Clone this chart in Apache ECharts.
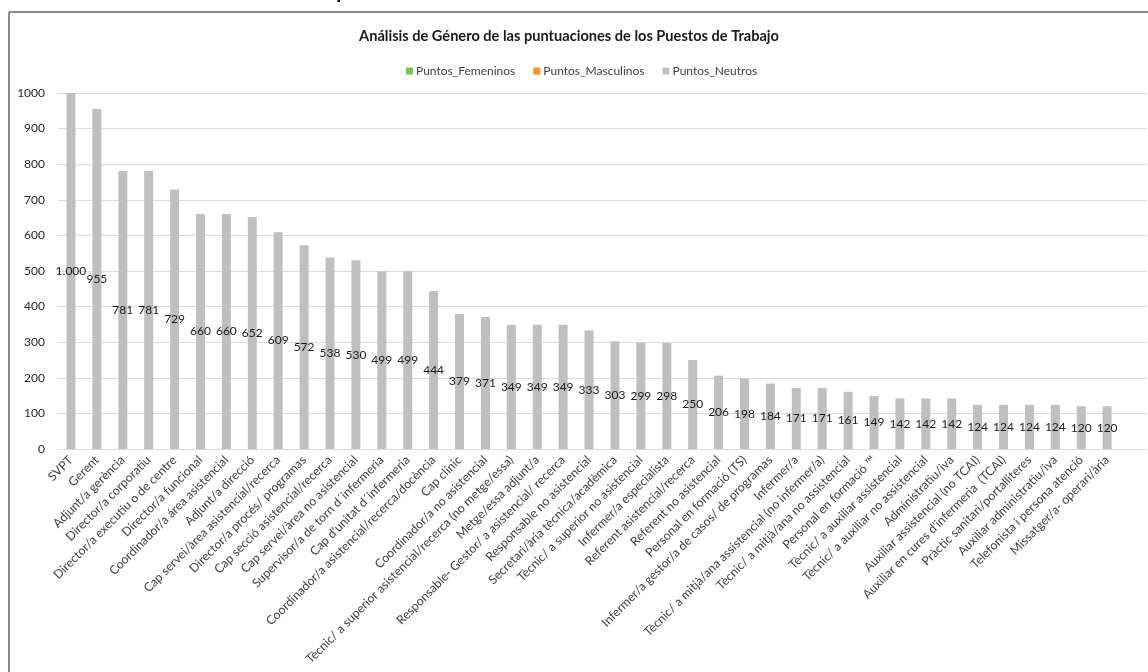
<!DOCTYPE html>
<html>
<head>
<meta charset="utf-8">
<script src="https://cdn.jsdelivr.net/npm/echarts@6/dist/echarts.min.js"></script>
<style>
  html, body { margin: 0; padding: 0; background: #ffffff; }
  #chart { width: 1148px; height: 672px; }
</style>
</head>
<body>
<div id="chart"></div>
<script>
// Job positions, ordered by score
const categories = [
  'SVPT',
  'Gerent',
  'Adjunt/a gerència',
  'Director/a corporatiu',
  'Director/a executiu o de centre',
  'Director/a funcional',
  'Coordinador/a área asistencial',
  'Adjunt/a direcció',
  'Cap servei/àrea asistencial/recerca',
  'Director/a procés/ programas',
  'Cap secció asistencial/recerca',
  'Cap servei/àrea no asistencial',
  'Supervisor/a de torn d´infermeria',
  'Cap d\'unitat d´infermeria',
  'Coordinador/a asistencial/recerca/docència',
  'Cap clínic',
  'Coordinador/a no asistencial',
  'Tècnic/ a superior asistencial/recerca (no metge/essa)',
  'Metge/essa adjunt/a',
  'Responsable- Gestor/ a asistencial/ recerca',
  'Responsable no asistencial',
  'Secretari/ària tècnica/acadèmica',
  'Tècnic/ a superior no asistencial',
  'Infermer/a especialista',
  'Referent asistencial/recerca',
  'Referent no asistencial',
  'Personal en formació (TS)',
  'Infermer/a gestor/a de casos/ de programas',
  'Infermer/a',
  'Tècnic/ a mitjà/ana assistencial (no infermer/a)',
  'Tècnic/ a mitjà/ana no assistencial',
  'Personal en formació ™',
  'Tècnic/ a auxiliar assistencial',
  'Tècnic/ a auxiliar no assistencial',
  'Administratiu/iva',
  'Auxiliar assistencial (no TCAI)',
  'Auxiliar en cures d\'infermeria  (TCAI)',
  'Pràctic sanitari/portalliteres',
  'Auxiliar administratiu/iva',
  'Telefonista i persona atenció',
  'Missatger/a- operari/ària',
  ''
];

// Scores per gender group
const puntosFemeninos = [];
const puntosMasculinos = [];
const puntosNeutros = [
  1000, 955, 781, 781, 729, 660, 660, 652, 609, 572,
  538, 530, 499, 499, 444, 379, 371, 349, 349, 349,
  333, 303, 299, 298, 250, 206, 198, 184, 171, 171,
  161, 149, 142, 142, 142, 124, 124, 124, 124, 120,
  120, null
];

// Value axis ticks
const yMin = 0;
const yMax = 1000;
const yStep = 100;

const seriesNames = ['Puntos_Femeninos', 'Puntos_Masculinos', 'Puntos_Neutros'];

const baseFont = 'Lato, "Open Sans", sans-serif';

// Spanish thousands separator: 1000 -> 1.000
function formatPoints(v) {
  return String(v).replace(/\B(?=(\d{3})+(?!\d))/g, '.');
}

const chart = echarts.init(document.getElementById('chart'), null, { renderer: 'canvas' });

const valueLabel = {
  show: true,
  position: 'inside',
  color: '#1a1a1a',
  fontFamily: baseFont,
  fontSize: 12,
  formatter: p => (p.value == null ? '' : formatPoints(p.value))
};

chart.setOption({
  backgroundColor: '#ffffff',
  animation: false,
  textStyle: { fontFamily: baseFont },
  title: {
    text: 'Análisis de Género de las puntuaciones de los Puestos de Trabajo',
    left: 564,
    textAlign: 'center',
    top: 24,
    textStyle: {
      fontFamily: baseFont,
      fontSize: 14.6,
      fontWeight: 'bold',
      color: '#1a1a1a'
    }
  },
  legend: {
    data: seriesNames,
    left: 401,
    top: 60,
    itemWidth: 7,
    itemHeight: 7,
    itemGap: 18,
    icon: 'rect',
    textStyle: { fontFamily: baseFont, fontSize: 12, color: '#404040', padding: [0, 0, 0, -2] }
  },
  grid: {
    left: 58,
    right: 2,
    top: 93,
    bottom: 223,
    containLabel: false
  },
  xAxis: {
    type: 'category',
    data: categories,
    boundaryGap: true,
    axisLine: { show: true, lineStyle: { color: '#d9d9d9', width: 1 } },
    axisTick: { show: false },
    axisLabel: {
      interval: 0,
      rotate: 45,
      margin: 9,
      fontFamily: baseFont,
      fontSize: 12.3,
      color: '#404040'
    }
  },
  yAxis: {
    type: 'value',
    min: yMin,
    max: yMax,
    interval: yStep,
    axisLine: { show: false },
    axisTick: { show: false },
    splitLine: { lineStyle: { color: '#d9d9d9', width: 1 } },
    axisLabel: {
      margin: 13,
      fontFamily: baseFont,
      fontSize: 12,
      color: '#262626',
      formatter: v => String(v)
    }
  },
  series: [
    {
      name: seriesNames[0],
      type: 'bar',
      stack: 'total',
      data: puntosFemeninos,
      barWidth: 9,
      itemStyle: { color: '#7cc243' }
    },
    {
      name: seriesNames[1],
      type: 'bar',
      stack: 'total',
      data: puntosMasculinos,
      barWidth: 9,
      itemStyle: { color: '#f7941d' }
    },
    {
      name: seriesNames[2],
      type: 'bar',
      stack: 'total',
      data: puntosNeutros,
      barWidth: 9,
      itemStyle: { color: '#bfbfbf' },
      label: valueLabel
    }
  ],
  graphic: [
    {
      type: 'text',
      left: 336,
      top: -20,
      z: 10,
      style: {
        text: 'p',
        fill: '#111111',
        font: 'bold 22px ' + baseFont
      }
    },
    {
      type: 'line',
      z: 10,
      shape: { x1: 9, y1: 12, x2: 1148, y2: 12 },
      style: { stroke: '#8a8a8a', lineWidth: 2 }
    },
    {
      type: 'line',
      z: 10,
      shape: { x1: 9, y1: 12, x2: 9, y2: 672 },
      style: { stroke: '#8a8a8a', lineWidth: 2 }
    }
  ]
});
</script>
</body>
</html>
